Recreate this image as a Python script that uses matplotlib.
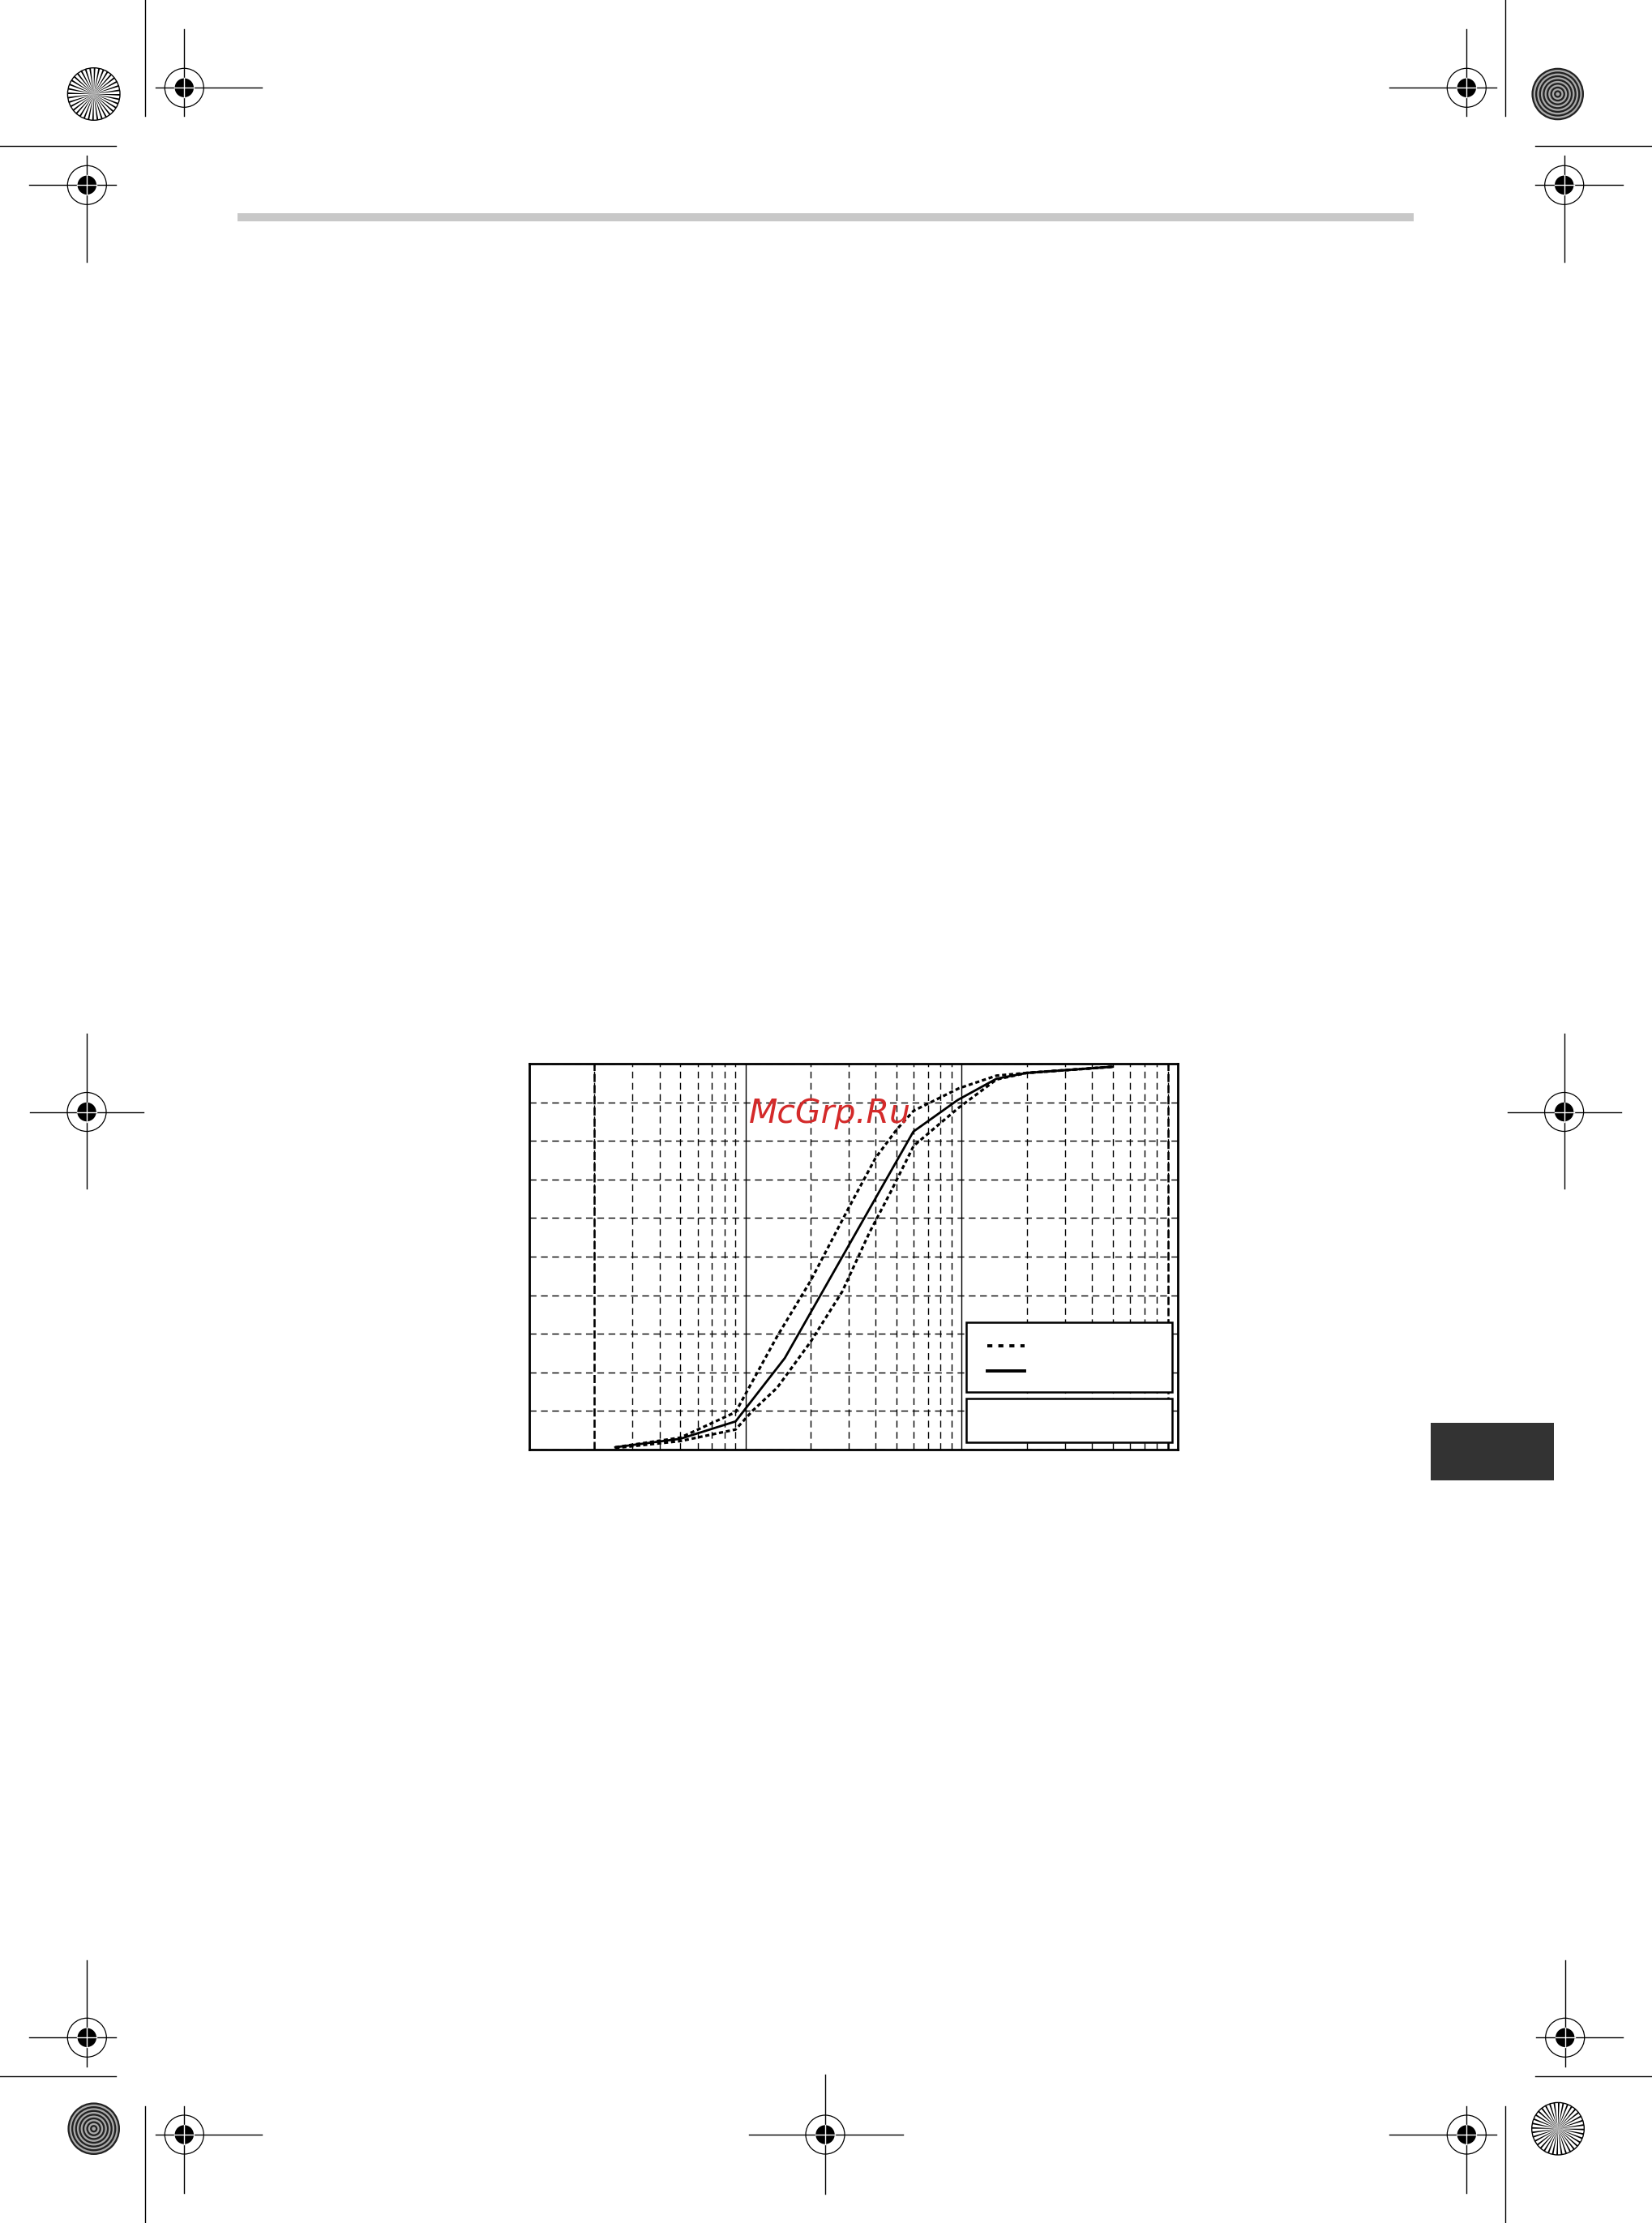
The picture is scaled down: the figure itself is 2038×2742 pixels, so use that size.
import numpy as np
import matplotlib
matplotlib.use("Agg")
import matplotlib.pyplot as plt
from matplotlib.patches import Circle, Wedge, Rectangle
from matplotlib.lines import Line2D

# cumulative curves (size on log axis, percent)
size_mean = [0.25, 0.5, 0.9, 1.52, 5.98, 9.6, 14.5, 20, 50]
pct_mean = [0.6, 2.8, 7.3, 23.7, 82.4, 90.6, 96.1, 97.6, 99.2]

size_upper = [0.25, 0.5, 0.9, 1.4, 2.0, 3.0, 4.0, 5.0, 6.0, 9.7, 14.5, 20, 50]
pct_upper = [0.6, 3.1, 9.7, 29.3, 43.7, 62.6, 75.6, 82.9, 87.8, 93.6, 96.9, 97.6, 99.2]

size_lower = [0.25, 0.5, 0.9, 1.08, 1.4, 2.0, 2.8, 3.75, 4.7, 6.0, 7.9, 9.7, 14.5, 20, 50]
pct_lower = [0.4, 2.2, 5.2, 10.1, 16.0, 27.9, 40.9, 56.3, 66.8, 78.7, 84.4, 88.6, 95.9, 97.6, 99.2]

x_limits = [0.1, 100]
y_ticks = list(range(0, 101, 10))
range_marks = [0.2, 90]

W, H = 2038, 2742
fig = plt.figure(figsize=(W / 100, H / 100), dpi=100)

# ---- page furniture (registration marks, bars) in pixel coordinates
page = fig.add_axes([0, 0, 1, 1], zorder=0)
page.set_xlim(0, W)
page.set_ylim(H, 0)
page.axis("off")


def crosshair(cx, cy, hx, vy):
    page.plot(hx, [cy, cy], color="k", lw=1.0)
    page.plot([cx, cx], vy, color="k", lw=1.0)
    page.add_patch(Circle((cx, cy), 24, fill=False, ec="k", lw=0.9))
    page.add_patch(Circle((cx, cy), 11.7, color="k", lw=0))
    page.plot([cx - 12, cx + 12], [cy, cy], color="w", lw=1.0)
    page.plot([cx, cx], [cy - 12, cy + 12], color="w", lw=1.0)


def starburst(cx, cy, r=32.3):
    for i in range(36):
        page.add_patch(Wedge((cx, cy), r, i * 10, i * 10 + 3.5, color="k", lw=0))
    page.add_patch(Circle((cx, cy), r, fill=False, ec="k", lw=1.0))


def rings(cx, cy, r=32.3, n=14):
    for k in range(n):
        page.add_patch(Circle((cx, cy), r * (1 - k / n),
                              color="#222222" if k % 2 == 0 else "#aaaaaa", lw=0))


crosshair(227.3, 108.3, [192, 323.3], [36, 143.3])
crosshair(107.3, 228.3, [36, 143.3], [192, 323.3])
crosshair(1809.3, 108.3, [1714, 1845.7], [36, 143.3])
crosshair(1929.7, 228.3, [1894, 2001.7], [192, 323.3])
crosshair(107.0, 1371.5, [37, 177], [1275, 1466])
crosshair(1929.6, 1371.5, [1860, 2000], [1275, 1466])
crosshair(107.3, 2513.3, [36, 143.3], [2418.3, 2549.3])
crosshair(227.3, 2633, [192, 323.3], [2598.3, 2705])
crosshair(1018, 2633, [924, 1114], [2559, 2706])
crosshair(1930.7, 2513.3, [1894.7, 2002], [2418.3, 2549.3])
crosshair(1809.3, 2633, [1714, 1845.7], [2598.3, 2705])

starburst(115.7, 116)
rings(1921.7, 116)
rings(115.7, 2625.7)
starburst(1922, 2625.7)

for xs, ys in [([179.3, 179.3], [0, 143.3]), ([0, 143.3], [180.3, 180.3]),
               ([1857.3, 1857.3], [0, 143.3]), ([1894, W], [180.3, 180.3]),
               ([0, 143.3], [2561.3, 2561.3]), ([179.3, 179.3], [2598.3, H]),
               ([1894, W], [2561.3, 2561.3]), ([1857.3, 1857.3], [2598.3, H])]:
    page.plot(xs, ys, color="k", lw=1.0)

page.add_patch(Rectangle((293, 262.7), 1451, 10, color="#c8c8c8", lw=0))
page.add_patch(Rectangle((1765, 1755), 152, 70.7, color="#333333", lw=0))

# ---- the chart
ax = fig.add_axes([653 / W, 1 - 1788 / H, 800 / W, 476 / H], zorder=2)
ax.set_xscale("log")
ax.set_xlim(x_limits)
ax.set_ylim(0, 100)
ax.set_yticks(y_ticks)
ax.xaxis.set_major_locator(matplotlib.ticker.LogLocator(base=10, numticks=10))
ax.xaxis.set_minor_locator(matplotlib.ticker.LogLocator(base=10, subs=np.arange(2, 10), numticks=20))
ax.tick_params(which="both", length=0, labelbottom=False, labelleft=False)

ax.grid(axis="y", which="major", color="k", lw=1.0, ls=(0, (6, 4)))
ax.grid(axis="x", which="major", color="k", lw=1.0, ls="-")
ax.grid(axis="x", which="minor", color="k", lw=1.0, ls=(0, (6, 4)))
for xm in range_marks:
    ax.axvline(xm, color="k", lw=1.8, ls=(0, (4, 1.5)))
for s in ax.spines.values():
    s.set_linewidth(2.0)
ax.set_axisbelow(True)

dash_curve = (0, (1.6, 1.1))
ax.plot(size_upper, pct_upper, color="k", lw=2.3, ls=dash_curve, zorder=3)
ax.plot(size_lower, pct_lower, color="k", lw=2.3, ls=dash_curve, zorder=3)
ax.plot(size_mean, pct_mean, color="k", lw=2.0, zorder=4)

# legend boxes (labels blank as in the scan)
ax.add_patch(Rectangle((0.674, 0.1498), 0.317, 0.18, transform=ax.transAxes,
                       fc="white", ec="k", lw=1.8, zorder=5))
ax.add_patch(Rectangle((0.674, 0.0189), 0.317, 0.1128, transform=ax.transAxes,
                       fc="white", ec="k", lw=1.8, zorder=5))
ax.add_line(Line2D([0.7066, 0.7638], [0.2689, 0.2689], transform=ax.transAxes,
                   color="k", lw=2.8, ls=(0, (1.6, 1.9)), zorder=6))
ax.add_line(Line2D([0.7066, 0.7638], [0.2044, 0.2044], transform=ax.transAxes,
                   color="k", lw=2.8, zorder=6))

fig.text(924 / W, 1 - 1385 / H, "McGrp.Ru", color="#d42a2a", fontsize=29.5,
         style="italic", family="DejaVu Sans", va="baseline", ha="left", zorder=10)

fig.savefig("out.png", dpi=100)
